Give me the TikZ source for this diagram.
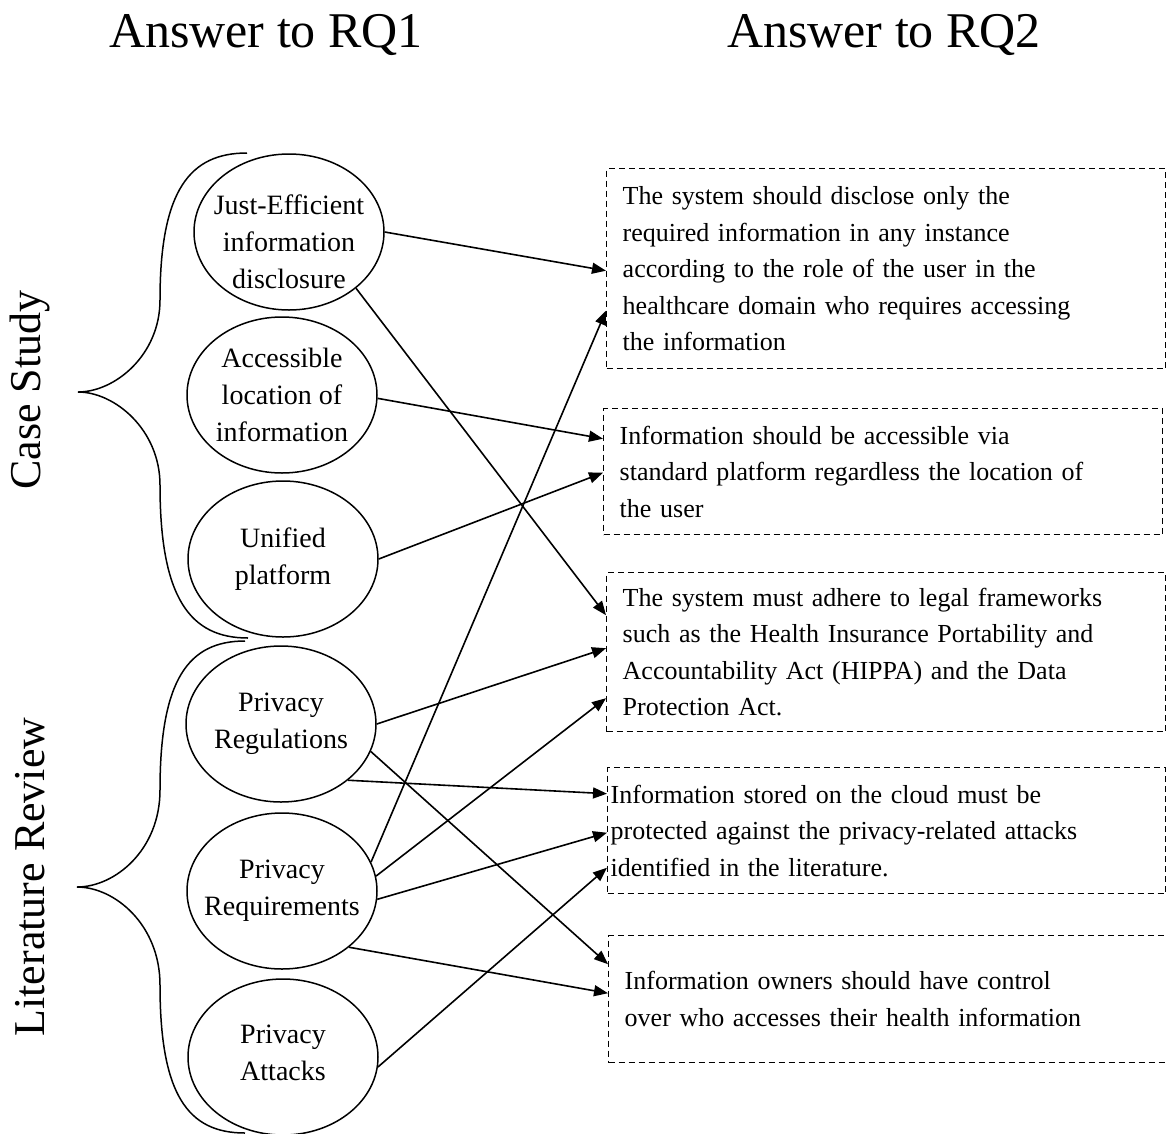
\documentclass[tikz,border=0pt]{standalone}
\usepackage{fontspec}
\setmainfont{Liberation Serif}
\usetikzlibrary{arrows.meta,shapes.geometric}

\tikzset{
  factor/.style={ellipse, draw, line width=1.5pt, minimum width=190pt,
    minimum height=156pt, inner sep=0pt},
  factortext/.style={font=\fontsize{28}{37}\selectfont, align=center},
  answer/.style={draw, line width=1.4pt, dash pattern=on 6pt off 4pt,
    anchor=north west, inner xsep=16pt, inner ysep=0pt, text width=527pt,
    align=left, font=\fontsize{26}{36.5}\selectfont},
  link/.style={line width=1.6pt, -{Triangle[length=14pt,width=11pt]}},
  brace/.style={line width=1.5pt},
  heading/.style={font=\fontsize{50}{60}\selectfont},
  source/.style={rotate=90, font=\fontsize{44}{52}\selectfont}
}

\begin{document}
\begin{tikzpicture}[x=1pt, y=-1pt]
  \useasboundingbox (0,0) rectangle (1167,1133);

  % headings
  \node[heading] (rq1) at (266,35) {Answer to RQ1};
  \node[heading] (rq2) at (884,35) {Answer to RQ2};

  % sources and braces
  \node[source] (cs) at (30,390) {Case Study};
  \node[source] (lr) at (30,877) {Literature Review};

  \draw[brace] (247,153) .. controls (190,153) and (160,190) .. (160,300)
    .. controls (160,355) and (115,392) .. (78,392)
    .. controls (115,392) and (160,430) .. (160,485)
    .. controls (160,598) and (190,638) .. (248,638);
  \draw[brace] (245,641) .. controls (188,641) and (160,680) .. (160,790)
    .. controls (160,850) and (115,887) .. (77,887)
    .. controls (115,887) and (160,925) .. (160,985)
    .. controls (160,1095) and (188,1133) .. (245,1133);

  % factors
  \node[factor] (je) at (289,232) {};
  \node[factor] (acc) at (282,395) {};
  \node[factor] (uni) at (283,559) {};
  \node[factor] (reg) at (281,724) {};
  \node[factor] (req) at (282,891) {};
  \node[factor] (att) at (283,1057) {};
  \node[factortext, yshift=-10pt] (je-txt) at (je) {Just-Efficient\\information\\disclosure};
  \node[factortext] (acc-txt) at (acc) {Accessible\\location of\\information};
  \node[factortext] (uni-txt) at (uni) {Unified\\platform};
  \node[factortext] (reg-txt) at (reg) {Privacy\\Regulations};
  \node[factortext] (req-txt) at (req) {Privacy\\Requirements};
  \node[factortext, yshift=4pt] (att-txt) at (att) {Privacy\\Attacks};

  % answers
  \node[answer, minimum height=200pt] (b1) at (606,168)
    {The system should disclose only the\\required information in any instance\\according to the role of the user in the\\healthcare domain who requires accessing\\the information};
  \node[answer, minimum height=126pt] (b2) at (603,408)
    {Information should be accessible via\\standard platform regardless the location of\\the user};
  \node[answer, minimum height=159pt] (b3) at (606,572)
    {The system must adhere to legal frameworks\\such as the Health Insurance Portability and\\Accountability Act (HIPPA) and the Data\\Protection Act.};
  \node[answer, minimum height=126pt, inner xsep=3pt, text width=552pt] (b4) at (607,767)
    {Information stored on the cloud must be\\protected against the privacy-related attacks\\identified in the literature.};
  \node[answer, minimum height=127pt] (b5) at (608,935)
    {Information owners should have control\\over who accesses their health information};

  % links
  \foreach \src/\dst/\off in {je.0/b1/-2, je.-40/b3/37, acc.-2/b2/33, uni.0/b2/-1,
    req.18/b1/-42, reg.0/b3/4, req.9/b3/-46, reg.-40/b4/37, reg.-17/b5/35,
    req.-5/b4/-2, req.-40/b5/6, att.-6/b4/-37}
    \draw[link] (\src) -- ([yshift=\off pt]\dst.west);
\end{tikzpicture}
\end{document}
